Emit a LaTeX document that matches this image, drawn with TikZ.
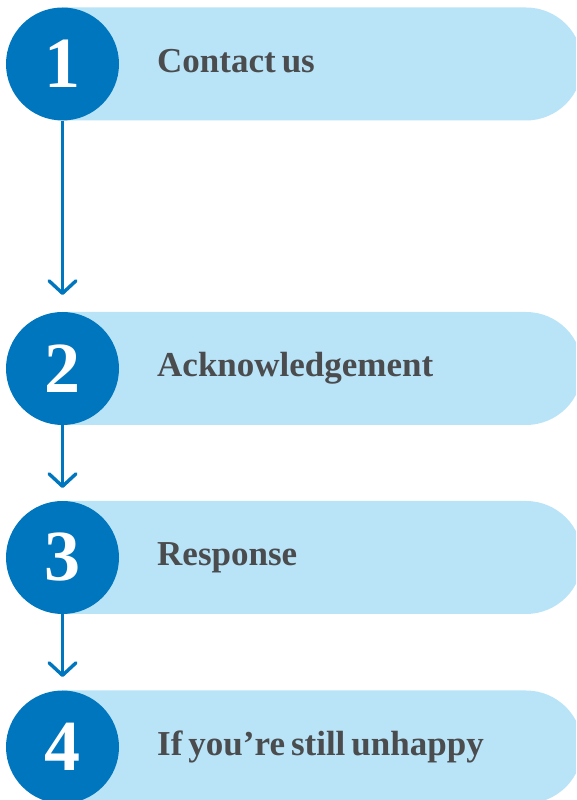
\documentclass[tikz,border=0pt]{standalone}
\usepackage{fontspec}
\setmainfont{Liberation Serif}
\usetikzlibrary{arrows.meta}
\definecolor{stepblue}{HTML}{0076BE}
\definecolor{pillblue}{HTML}{B9E4F8}
\definecolor{labelgray}{HTML}{4B4C4E}
\newcommand\mylabelfont{\fontsize{35}{35}\selectfont\bfseries\spaceskip=6pt plus 1pt\relax}
\begin{document}
\begin{tikzpicture}[x=1pt,y=1pt,
  numcircle/.style={circle,fill=stepblue,minimum size=113pt,inner sep=0pt,text=white,
    font=\fontsize{72}{72}\selectfont\bfseries},
  steplabel/.style={anchor=base west,inner sep=0pt,text=labelgray,
    font=\mylabelfont},
  pill/.style={fill=pillblue},
  flowarrow/.style={draw=stepblue,line width=3.4pt,
    -{Straight Barb[length=12.5pt,width=27pt,round]}}
]
\useasboundingbox (0,0) rectangle (576,800);
\clip (0,0) rectangle (576,800);
% pills
\foreach \cy in {736,431.5,242.5,53}{
  \fill[pill] (62.5,\cy-56.5) -- (526,\cy-56.5) arc[start angle=-90,end angle=90,radius=56.5]
     -- (62.5,\cy+56.5) -- cycle;
}
% circles
\node[numcircle] (c1) at (62.5,736) {1};
\node[numcircle] (c2) at (62.5,431.5) {2};
\node[numcircle] (c3) at (62.5,242.5) {3};
\node[numcircle] (c4) at (62.5,53) {4};
% labels
\node[steplabel] (t1) at (157,736-8.2) {Contact us};
\node[steplabel] (t2) at (157,431.5-8.2) {Acknowledgement};
\node[steplabel] (t3) at (157,242.5-8.2) {Response};
\node[steplabel] (t4) at (157,53-8.2) {If you’re still unhappy};
% arrow ends
\coordinate (e1) at (62.5,505);
\coordinate (e2) at (62.5,312);
\coordinate (e3) at (62.5,123);
\draw[flowarrow] (c1.south) -- (e1);
\draw[flowarrow] (c2.south) -- (e2);
\draw[flowarrow] (c3.south) -- (e3);
\end{tikzpicture}
\end{document}
